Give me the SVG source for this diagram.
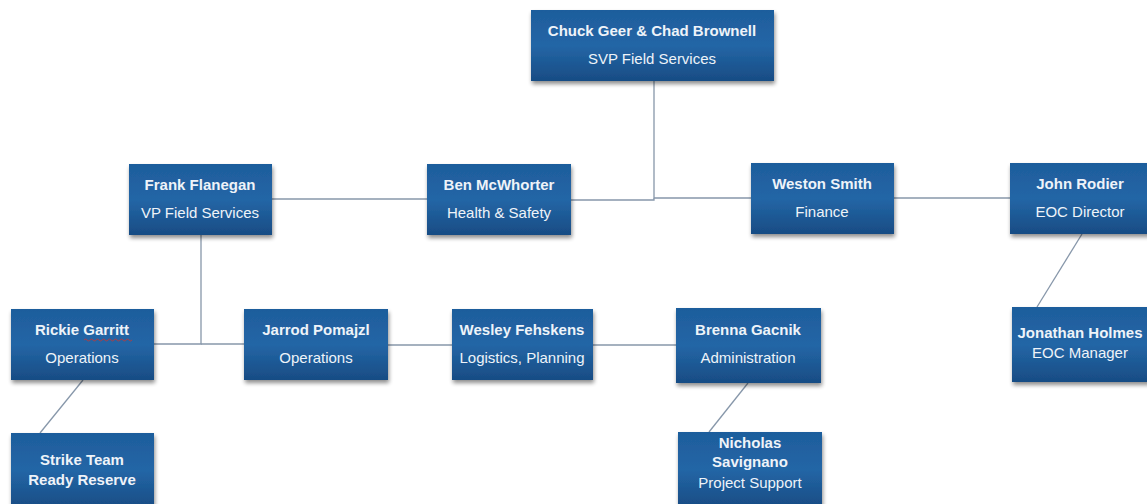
<svg xmlns="http://www.w3.org/2000/svg" width="1147" height="504" viewBox="0 0 1147 504">
<defs>
<linearGradient id="bg" x1="0" y1="0" x2="0" y2="1">
<stop offset="0" stop-color="#1e5d9c"/>
<stop offset="0.5" stop-color="#2366a6"/>
<stop offset="1" stop-color="#184c84"/>
</linearGradient>
<filter id="sh" x="-10%" y="-10%" width="125%" height="135%">
<feGaussianBlur in="SourceAlpha" stdDeviation="2"/>
<feOffset dx="1" dy="3" result="b"/>
<feComponentTransfer><feFuncA type="linear" slope="0.45"/></feComponentTransfer>
<feMerge><feMergeNode/><feMergeNode in="SourceGraphic"/></feMerge>
</filter>
</defs>
<style>
.box{fill:url(#bg);filter:url(#sh)}
.t{font-family:"Liberation Sans",Arial,sans-serif;font-size:15px;fill:#eef3f9;text-anchor:middle}
.b{font-weight:bold}
.c{fill:none;stroke:#8797aa;stroke-width:1.3}
</style>
<rect width="1147" height="504" fill="#ffffff"/>
<g id="connectors">
<path class="c" d="M654 81 V198 H751"/>
<path class="c" d="M571 200 H654 V198"/>
<path class="c" d="M272 199 H427"/>
<path class="c" d="M894 198 H1010"/>
<path class="c" d="M201 235 V344 H154"/>
<path class="c" d="M201 344 H244"/>
<path class="c" d="M388 345 H452"/>
<path class="c" d="M593 345 H676"/>
<path class="c" d="M1082 234 L1037 307"/>
<path class="c" d="M83 380 L40 433"/>
<path class="c" d="M748 383 L709 432"/>
</g>
<g id="n-chuck">
<rect class="box" x="531" y="10" width="243" height="71"/>
<text class="t b" x="652" y="36">Chuck Geer &amp; Chad Brownell</text>
<text class="t" x="652" y="64">SVP Field Services</text>
</g>
<g id="n-frank">
<rect class="box" x="129" y="164" width="143" height="71"/>
<text class="t b" x="200" y="190">Frank Flanegan</text>
<text class="t" x="200" y="218">VP Field Services</text>
</g>
<g id="n-ben">
<rect class="box" x="427" y="164" width="144" height="71"/>
<text class="t b" x="499" y="190">Ben McWhorter</text>
<text class="t" x="499" y="218">Health &amp; Safety</text>
</g>
<g id="n-weston">
<rect class="box" x="751" y="163" width="143" height="71"/>
<text class="t b" x="822" y="189">Weston Smith</text>
<text class="t" x="822" y="217">Finance</text>
</g>
<g id="n-john">
<rect class="box" x="1010" y="163" width="140" height="71"/>
<text class="t b" x="1080" y="189">John Rodier</text>
<text class="t" x="1080" y="217">EOC Director</text>
</g>
<g id="n-rickie">
<rect class="box" x="11" y="309" width="143" height="71"/>
<text class="t b" x="82" y="335">Rickie Garritt</text>
<path d="M84 340 q1.5 -2 3 0 t3 0 t3 0 t3 0 t3 0 t3 0 t3 0 t3 0 t3 0 t3 0 t3 0 t3 0 t3 0 t3 0 t3 0 t3 0" fill="none" stroke="#d0342c" stroke-width="0.8"/>
<text class="t" x="82" y="363">Operations</text>
</g>
<g id="n-jarrod">
<rect class="box" x="244" y="309" width="144" height="71"/>
<text class="t b" x="316" y="335">Jarrod Pomajzl</text>
<text class="t" x="316" y="363">Operations</text>
</g>
<g id="n-wesley">
<rect class="box" x="452" y="309" width="141" height="71"/>
<text class="t b" x="522" y="335">Wesley Fehskens</text>
<text class="t" x="522" y="363">Logistics, Planning</text>
</g>
<g id="n-brenna">
<rect class="box" x="676" y="308" width="145" height="75"/>
<text class="t b" x="748" y="335">Brenna Gacnik</text>
<text class="t" x="748" y="363">Administration</text>
</g>
<g id="n-jonathan">
<rect class="box" x="1012" y="307" width="138" height="75"/>
<text class="t b" x="1080" y="338">Jonathan Holmes</text>
<text class="t" x="1080" y="358">EOC Manager</text>
</g>
<g id="n-strike">
<rect class="box" x="11" y="433" width="143" height="75"/>
<text class="t b" x="82" y="465">Strike Team</text>
<text class="t b" x="82" y="485">Ready Reserve</text>
</g>
<g id="n-nicholas">
<rect class="box" x="678" y="432" width="144" height="75"/>
<text class="t b" x="750" y="448">Nicholas</text>
<text class="t b" x="750" y="467">Savignano</text>
<text class="t" x="750" y="488">Project Support</text>
</g>
</svg>
